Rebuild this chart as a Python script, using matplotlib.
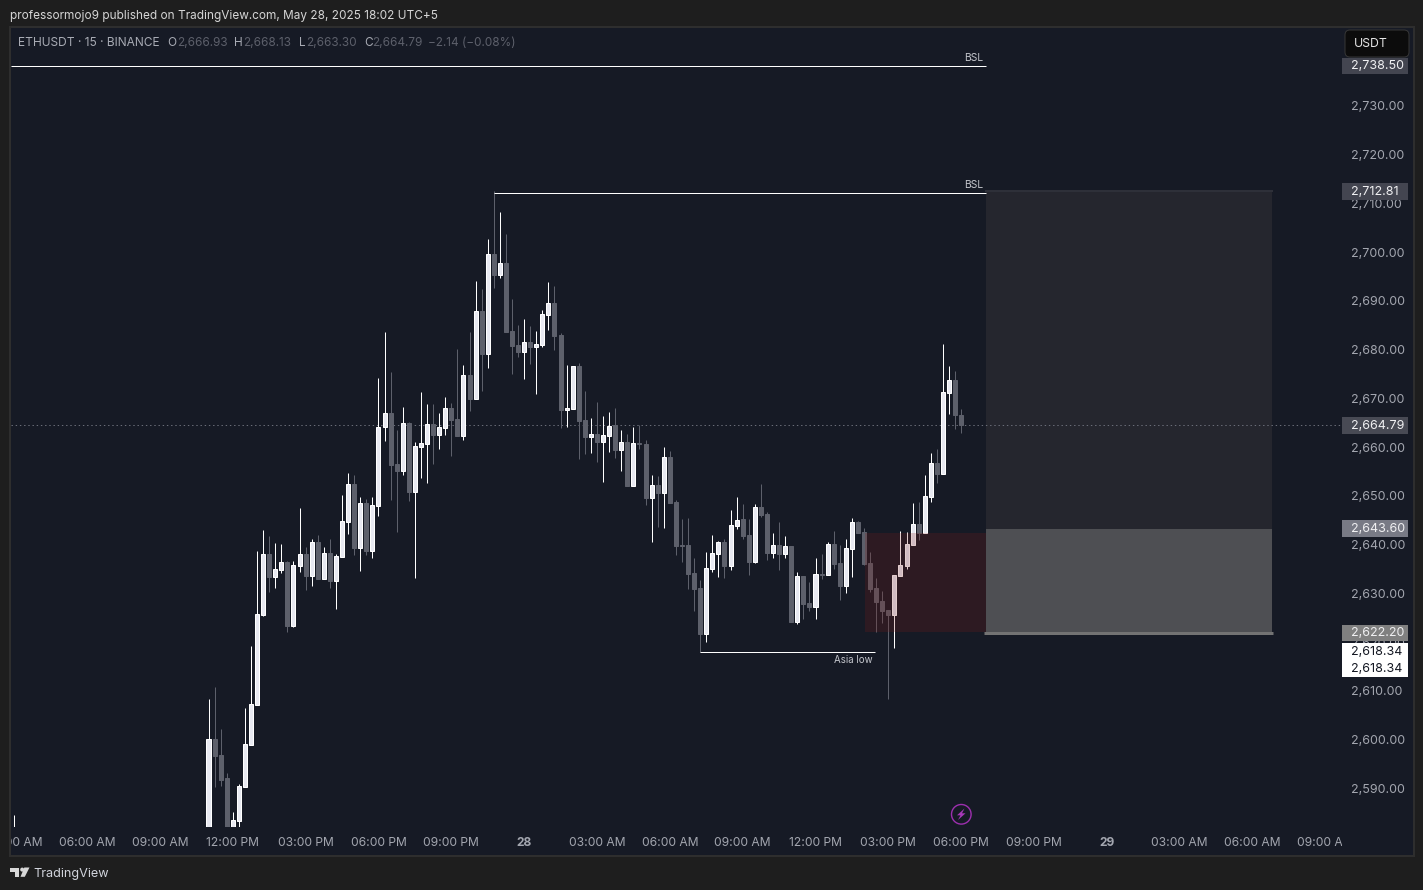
import numpy as np
import matplotlib
matplotlib.use("Agg")
import matplotlib.pyplot as plt
from matplotlib.patches import Rectangle, FancyBboxPatch, Circle, Polygon

plt.rcParams['font.family'] = ['Inter', 'DejaVu Sans']

# 15 minute candles, index 0 is 11:00 AM on May 27
opens = [
    2578.00, 2600.44, 2597.16, 2592.44, 2580.00, 2583.62, 2590.66, 2599.21, 2607.42, 2625.88,
    2638.39, 2633.67, 2635.11, 2636.75, 2623.62, 2635.93, 2638.39, 2633.88, 2640.85, 2633.26,
    2638.60, 2632.85, 2637.78, 2644.95, 2652.75, 2639.62, 2648.85, 2639.01, 2648.24, 2664.44,
    2667.32, 2656.85, 2655.42, 2665.26, 2651.11, 2660.34, 2660.96, 2665.06, 2662.80, 2664.24,
    2668.34, 2666.08, 2662.60, 2675.11, 2670.19, 2688.24, 2679.42, 2699.93, 2695.62, 2698.08,
    2684.14, 2681.26, 2679.83, 2681.88, 2680.85, 2681.26, 2687.42, 2689.88, 2683.32, 2667.93,
    2668.14, 2676.96, 2665.88, 2662.39, 2663.01, 2661.37, 2662.60, 2664.85, 2659.73, 2661.37,
    2652.34, 2661.16, 2660.96, 2649.88, 2652.55, 2650.91, 2658.29, 2649.06, 2640.24, 2640.24,
    2634.50, 2631.42, 2621.98, 2635.32, 2638.39, 2640.85, 2635.93, 2644.14, 2645.57, 2642.29,
    2636.75, 2648.03, 2646.60, 2638.60, 2640.24, 2638.39, 2640.03, 2624.44, 2633.88, 2628.34,
    2627.52, 2634.29, 2634.09, 2640.44, 2636.55, 2631.83, 2639.42, 2644.96, 2642.90, 2636.55,
    2631.42, 2628.75, 2626.90, 2625.88, 2633.88, 2635.93, 2640.24, 2644.55, 2642.70, 2650.08,
    2657.06, 2654.80, 2671.42, 2674.08, 2666.93,
]
highs = [
    2608.65, 2611.11, 2602.49, 2593.47, 2585.47, 2591.21, 2606.80, 2619.52, 2639.01, 2643.31,
    2642.08, 2640.65, 2640.44, 2636.95, 2636.95, 2647.83, 2639.83, 2641.47, 2642.29, 2639.83,
    2641.47, 2638.39, 2650.49, 2655.01, 2654.60, 2650.08, 2649.67, 2650.08, 2674.49, 2683.93,
    2675.73, 2663.83, 2668.55, 2665.47, 2661.37, 2671.62, 2669.16, 2669.16, 2667.32, 2670.60,
    2669.37, 2680.44, 2677.16, 2683.93, 2694.39, 2692.75, 2703.01, 2712.81, 2708.55, 2704.03,
    2690.70, 2685.37, 2686.60, 2685.16, 2684.14, 2688.44, 2694.19, 2693.37, 2683.73, 2677.16,
    2676.96, 2677.57, 2671.83, 2666.29, 2669.57, 2666.70, 2667.52, 2668.34, 2663.83, 2663.01,
    2664.44, 2664.85, 2661.78, 2654.60, 2654.39, 2660.34, 2659.52, 2649.47, 2645.57, 2645.78,
    2637.57, 2633.06, 2638.80, 2642.29, 2641.06, 2641.47, 2647.42, 2650.09, 2648.65, 2645.57,
    2648.65, 2652.75, 2647.01, 2642.70, 2644.96, 2642.09, 2640.03, 2634.70, 2633.88, 2632.65,
    2637.57, 2638.39, 2640.85, 2643.11, 2640.24, 2641.47, 2645.78, 2645.16, 2643.72, 2638.80,
    2633.47, 2630.80, 2626.90, 2634.08, 2643.11, 2642.90, 2648.85, 2649.06, 2654.60, 2659.11,
    2659.93, 2681.47, 2676.96, 2675.93, 2668.13,
]
lows = [
    2577.00, 2590.60, 2590.80, 2577.00, 2579.00, 2581.00, 2590.66, 2599.21, 2607.42, 2625.67,
    2630.60, 2631.42, 2634.49, 2622.39, 2623.42, 2634.70, 2631.01, 2631.83, 2633.26, 2633.26,
    2631.42, 2627.11, 2637.78, 2642.49, 2638.19, 2634.90, 2638.19, 2637.57, 2646.19, 2661.57,
    2649.47, 2642.90, 2654.60, 2649.26, 2633.47, 2653.98, 2653.00, 2656.85, 2659.93, 2662.80,
    2658.49, 2662.60, 2661.78, 2667.73, 2670.19, 2671.83, 2676.55, 2692.96, 2695.01, 2683.93,
    2675.32, 2678.80, 2674.29, 2677.37, 2671.21, 2680.85, 2684.34, 2680.24, 2664.24, 2664.44,
    2668.14, 2657.88, 2658.90, 2659.11, 2657.26, 2653.16, 2659.32, 2658.08, 2655.42, 2652.34,
    2652.34, 2659.93, 2648.44, 2640.85, 2643.93, 2643.73, 2648.85, 2638.19, 2636.75, 2631.21,
    2626.70, 2618.34, 2620.34, 2634.70, 2633.67, 2633.47, 2635.11, 2643.52, 2641.47, 2634.09,
    2636.55, 2645.98, 2637.16, 2637.57, 2635.11, 2637.57, 2624.44, 2624.03, 2625.06, 2626.70,
    2625.06, 2633.26, 2634.09, 2635.32, 2628.96, 2630.39, 2633.67, 2642.70, 2636.13, 2630.60,
    2622.39, 2624.24, 2608.65, 2619.11, 2633.88, 2635.31, 2640.24, 2641.26, 2642.70, 2649.06,
    2652.96, 2654.80, 2667.11, 2664.03, 2663.30,
]
closes = [
    2600.44, 2596.95, 2592.03, 2578.50, 2583.83, 2590.80, 2599.42, 2607.62, 2626.08, 2638.39,
    2633.67, 2635.31, 2636.75, 2623.62, 2636.13, 2638.39, 2633.88, 2640.85, 2633.26, 2638.60,
    2632.85, 2637.98, 2645.16, 2652.75, 2639.62, 2648.85, 2639.01, 2648.44, 2664.44, 2667.32,
    2656.65, 2655.42, 2665.26, 2651.11, 2660.55, 2661.16, 2665.06, 2662.80, 2664.44, 2668.34,
    2665.88, 2662.60, 2675.11, 2670.19, 2688.24, 2679.42, 2699.93, 2695.62, 2698.08, 2683.93,
    2681.06, 2679.83, 2681.88, 2680.85, 2681.47, 2687.62, 2689.88, 2683.11, 2667.93, 2668.34,
    2676.96, 2665.67, 2662.39, 2663.01, 2661.37, 2662.80, 2664.65, 2659.73, 2661.37, 2652.34,
    2661.16, 2660.96, 2649.88, 2652.55, 2650.91, 2658.29, 2648.85, 2640.03, 2640.03, 2634.29,
    2631.21, 2621.98, 2635.52, 2638.60, 2640.85, 2635.93, 2644.34, 2645.37, 2642.09, 2636.75,
    2648.03, 2646.39, 2638.60, 2640.24, 2638.39, 2640.03, 2624.44, 2633.88, 2628.14, 2627.52,
    2634.29, 2634.09, 2640.44, 2636.34, 2631.83, 2639.62, 2644.96, 2642.70, 2636.34, 2631.21,
    2628.55, 2626.70, 2625.88, 2634.08, 2636.13, 2640.44, 2644.55, 2642.70, 2650.29, 2657.06,
    2654.80, 2671.62, 2674.08, 2666.90, 2664.79,
]

# one older candle that only just shows at the bottom left
stray_index = -32
stray_bar = (2570.00, 2584.85, 2569.00, 2571.00)

last_price = 2664.79
upper_bsl = 2738.50
lower_bsl = 2712.38
asia_low = 2618.34
target_price = 2712.81
entry_price = 2643.60
stop_price = 2622.20
fvg_top = 2642.70
fvg_bottom = 2622.39

price_ticks = [2590, 2600, 2610, 2620, 2630, 2640, 2650, 2660, 2670, 2680, 2690, 2700, 2710, 2720, 2730]
time_ticks = [-32, -20, -8, 4, 16, 28, 40, 52, 64, 76, 88, 100, 112, 124, 136, 148, 160, 172, 184]
time_labels = ["03:00 AM", "06:00 AM", "09:00 AM", "12:00 PM", "03:00 PM", "06:00 PM", "09:00 PM", "28",
               "03:00 AM", "06:00 AM", "09:00 AM", "12:00 PM", "03:00 PM", "06:00 PM", "09:00 PM", "29",
               "03:00 AM", "06:00 AM", "09:00 AM"]

W, H = 1423, 890
PX = 0.72  # one pixel in points at dpi 100
PANE_BG = "#161a25"
WHITE_FILL = "#e8e9f1"
GRAY = "#5d606b"
LABEL = "#a3a6af"

fig = plt.figure(figsize=(W / 100, H / 100), dpi=100, facecolor="#1e1e1e")


def px_axes(zorder):
    a = fig.add_axes([0, 0, 1, 1], zorder=zorder)
    a.set_xlim(0, W)
    a.set_ylim(H, 0)
    a.axis("off")
    return a


back = px_axes(0)
back.add_patch(Rectangle((10, 27), 1404, 829, fc=PANE_BG, ec="#2e2e2e", lw=2 * PX))

# chart pane, 11..1342 px wide, 28..827 px high
left, right, top, bottom = 11, 1342, 28, 827
ax = fig.add_axes([left / W, 1 - bottom / H, (right - left) / W, (bottom - top) / H], zorder=1)
ax.patch.set_alpha(0)
ax.set_xlim((left - 208.5) / 6.07, (right - 208.5) / 6.07)
ax.set_ylim(2610 + (692.4 - bottom) / 4.875, 2610 + (692.4 - top) / 4.875)
for s in ax.spines.values():
    s.set_visible(False)

idx = np.arange(len(opens))
o, h, l, c = map(np.array, (opens, highs, lows, closes))
up = c >= o
wick_colors = ["white" if u else GRAY for u in up]
ax.vlines(idx, l, h, colors=wick_colors, lw=PX, zorder=2)
ax.bar(idx[up], (c - o)[up], bottom=o[up], width=0.66, color=WHITE_FILL, edgecolor="white", lw=PX, zorder=2.2)
ax.bar(idx[~up], (c - o)[~up], bottom=o[~up], width=0.66, color=GRAY, edgecolor=GRAY, lw=PX, zorder=2.2)
ax.vlines([stray_index], stray_bar[2], stray_bar[1], colors="white", lw=PX, zorder=2)

# long position tool and the imbalance box
ax.add_patch(Rectangle((128.1, entry_price), 47.1, target_price - entry_price, fc="#25262e", ec="none", zorder=1))
ax.add_patch(Rectangle((128.1, stop_price), 47.1, entry_price - stop_price, fc="#4e4f53", ec="none", zorder=1))
ax.hlines(target_price, 128.0, 175.3, colors="#2e3039", lw=2 * PX, zorder=1.1)
ax.hlines(stop_price, 127.8, 175.4, colors="#737373", lw=3 * PX, zorder=1.1)
ax.add_patch(Rectangle((108.2, fvg_bottom), 19.9, fvg_top - fvg_bottom, fc="#7f1a18", alpha=0.22, ec="none", zorder=3))

# levels
ax.hlines(last_price, ax.get_xlim()[0], ax.get_xlim()[1], colors="#6a6d78", lw=PX, linestyles=(0, (1.4, 2.8)), zorder=1.5)
ax.hlines(upper_bsl, ax.get_xlim()[0], 128.1, colors="white", lw=PX, zorder=2.5)
ax.hlines(lower_bsl, 47, 128.1, colors="white", lw=PX, zorder=2.5)
ax.hlines(asia_low, 81, 109.8, colors="white", lw=PX, zorder=2.5)
ax.annotate("BSL", (128.1, upper_bsl), xytext=(-3 * PX, 8 * PX), textcoords="offset points", ha="right", va="center",
            fontsize=7.4, color="#c4c6cc", zorder=4)
ax.annotate("BSL", (128.1, lower_bsl), xytext=(-3 * PX, 8 * PX), textcoords="offset points", ha="right", va="center",
            fontsize=7.4, color="#c4c6cc", zorder=4)
ax.annotate("Asia low", (109.8, asia_low), xytext=(-2 * PX, -8.5 * PX), textcoords="offset points", ha="right", va="center",
            fontsize=7, color="#c4c6cc", zorder=4)

# price scale on the right
ax.yaxis.tick_right()
ax.set_yticks(price_ticks)
ax.set_yticklabels([f"{p:,.2f}" for p in price_ticks])
ax.tick_params(axis="y", length=0, pad=9 * PX, labelsize=9, labelcolor=LABEL)
for t in ax.get_yticklabels():
    t.set_verticalalignment("center")

# time scale, labels get cut at the pane edges
ax.set_xticks(time_ticks)
ax.set_xticklabels(time_labels)
ax.tick_params(axis="x", length=0, pad=10.5 * PX, labelsize=8.7, labelcolor=LABEL)
for t, name in zip(ax.get_xticklabels(), time_labels):
    t.set_clip_box(matplotlib.transforms.Bbox([[left, 0], [right, H]]))
    t.set_clip_on(True)
    if name in ("28", "29"):
        t.set_fontweight("bold")

# on top of everything: tags, header, logo
over = px_axes(2)
over.patch.set_alpha(0)

tag_prices = [upper_bsl, target_price, last_price, entry_price, stop_price]
tag_colors = ["#434550", "#434550", "#484a54", "#787a85", "#808080"]
y_of = lambda p: 692.4 + (2610 - p) * 4.875
for p, col in zip(tag_prices, tag_colors):
    y = y_of(p)
    over.add_patch(Rectangle((1342, y - 8.4), 66, 16.8, fc=col, ec="none"))
    over.text(1351, y + 0.4, f"{p:,.2f}", color="#f0f0f2", fontsize=9, va="center", ha="left")
over.add_patch(Rectangle((1342, 643.3), 66, 33.4, fc="white", ec="none"))
over.text(1351, y_of(asia_low) + 0.2, f"{asia_low:,.2f}", color="#131722", fontsize=9, va="center", ha="left")
over.text(1351, y_of(asia_low) + 17, f"{asia_low:,.2f}", color="#131722", fontsize=9, va="center", ha="left")

over.add_patch(FancyBboxPatch((1348, 33), 58, 21, boxstyle="round,pad=3,rounding_size=5", fc="#0c0c0c", ec="#363636", lw=PX))
over.text(1354, 44, "USDT", color="#e6e6e6", fontsize=8.8, va="center", ha="left")

over.text(10, 16, "professormojo9 published on TradingView.com, May 28, 2025 18:02 UTC+5", color="#d6d6d6",
          fontsize=8.5, va="center", ha="left")

over.text(18, 43.5, "ETHUSDT · 15 · BINANCE", color="#a8abb4", fontsize=8.6, va="center", ha="left")
legend_keys = [("O", 167.5, "2,666.93", 176.7), ("H", 234, "2,668.13", 243.6),
               ("L", 299, "2,663.30", 305.7), ("C", 364, "2,664.79", 372.3)]
for key, kx, val, vx in legend_keys:
    over.text(kx, 43.5, key, color="#a8abb4", fontsize=8.5, va="center", ha="left")
    over.text(vx, 43.5, val, color="#5d606b", fontsize=8.5, va="center", ha="left")
over.text(428.4, 43.5, "−2.14 (−0.08%)", color="#5d606b", fontsize=8.5, va="center", ha="left")

# lightning mark
over.add_patch(Circle((961.3, 814.3), 9.8, fc="none", ec="#9c2fae", lw=1.4 * PX))
over.add_patch(Polygon([(964.5, 808.5), (957, 815.3), (960.5, 815.3), (958, 820), (965.5, 813.3), (962, 813.3)],
                       fc="#a838ba", ec="none"))

# TradingView logo
logo = "#d8d8d8"
over.add_patch(Polygon([(10, 867.5), (19, 867.5), (19, 876.8), (14.8, 876.8), (14.8, 871.7), (10, 871.7)], fc=logo, ec="none"))
over.add_patch(Circle((22.2, 869.6), 2.0, fc=logo, ec="none"))
over.add_patch(Polygon([(24.3, 867.5), (29.5, 867.5), (24.8, 876.8), (20.5, 876.8)], fc=logo, ec="none"))
over.text(33, 873.5, "TradingView", color="#d1d4dc", fontsize=9.1, va="center", ha="left")

fig.savefig("out.png", dpi=100, facecolor=fig.get_facecolor())
